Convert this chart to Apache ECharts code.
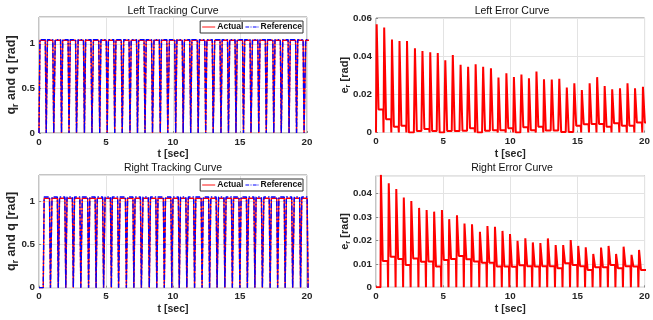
<!DOCTYPE html>
<html><head><meta charset="utf-8">
<script src="https://cdn.jsdelivr.net/npm/echarts@6/dist/echarts.min.js"></script>
<style>html,body{margin:0;padding:0;background:#fff}#c{width:653px;height:320px}</style>
</head><body><div id="c"></div>
<script>
// ---- data ----
// spike (rising-edge) times of each pulse, seconds
const leftPulseT = [0.05,0.61,1.19,1.75,2.31,2.90,3.46,4.04,4.60,5.16,5.72,6.30,6.86,7.42,7.98,8.56,9.12,9.71,10.27,10.83,11.39,11.95,12.51,13.09,13.65,14.21,14.77,15.33,15.91,16.47,17.03,17.59,18.17,18.73,19.29,19.88];
const rightPulseT = [0.365,0.95,1.51,2.07,2.63,3.21,3.77,4.33,4.91,5.45,6.03,6.59,7.15,7.74,8.30,8.86,9.42,9.98,10.54,11.12,11.68,12.24,12.80,13.38,13.94,14.50,15.06,15.62,16.18,16.76,17.32,17.88,18.44,19.03,19.59];
// tracking levels (rad)
const leftRefLevel = 1.047, leftActLevel = 1.040;
const rightRefLevel = 1.047, rightActLevel = 1.032;
// error peaks and hold values per pulse (rad)
const leftErrPeak = [0.0567,0.0550,0.0487,0.0480,0.0480,0.0441,0.0427,0.0420,0.0416,0.0378,0.0406,0.0355,0.0345,0.0358,0.0345,0.0337,0.0288,0.0310,0.0291,0.0304,0.0284,0.0320,0.0279,0.0277,0.0282,0.0236,0.0258,0.0222,0.0258,0.0290,0.0244,0.0226,0.0232,0.0258,0.0232,0.0240];
const leftErrHold = [0.0120,0.0070,0.0030,0.0036,0.0000,0.0008,0.0018,0.0008,0.0000,0.0008,0.0008,0.0009,0.0022,0.0000,0.0009,0.0012,0.0012,0.0022,0.0000,0.0028,0.0012,0.0030,0.0010,0.0010,0.0003,0.0003,0.0035,0.0043,0.0045,0.0045,0.0030,0.0048,0.0035,0.0035,0.0052,0.0052];
const rightErrPeak = [0.0480,0.0443,0.0418,0.0382,0.0367,0.0338,0.0329,0.0322,0.0329,0.0290,0.0307,0.0271,0.0268,0.0236,0.0261,0.0258,0.0240,0.0227,0.0198,0.0209,0.0191,0.0188,0.0208,0.0180,0.0180,0.0201,0.0176,0.0170,0.0142,0.0169,0.0176,0.0142,0.0173,0.0138,0.0159];
const rightErrHold = [0.0112,0.0130,0.0120,0.0095,0.0123,0.0109,0.0110,0.0088,0.0116,0.0120,0.0133,0.0119,0.0110,0.0105,0.0105,0.0089,0.0088,0.0087,0.0094,0.0090,0.0088,0.0090,0.0090,0.0081,0.0102,0.0095,0.0090,0.0074,0.0085,0.0085,0.0095,0.0081,0.0090,0.0088,0.0074];

// ---- build tables ----
function track(pulses, level){
  const p=[[0,0]];
  pulses.forEach(s=>{p.push([s-0.05,0],[s+0.02,level],[s+0.42,level],[s+0.49,0]);});
  return p;
}
function err(pulses, peak, hold){
  const p=[[0,0]];
  pulses.forEach((s,i)=>{
    const nx = i+1<pulses.length ? pulses[i+1] : 20.6;
    p.push([s-0.03,0],[s,peak[i]],[s+0.14,hold[i]],[nx-0.08,hold[i]],[nx-0.05,0]);
  });
  return p;
}

const FONT='"Liberation Sans", Arial, Helvetica, sans-serif';
const grids=[
  {left:39,top:17,width:268,height:116},
  {left:376,top:18,width:273,height:114.5},
  {left:39,top:175,width:268,height:112.7},
  {left:376,top:175.7,width:273,height:111.6}
];
grids.forEach(g=>{g.show=true;g.borderColor='#8a8a8a';g.borderWidth=1;g.backgroundColor='#fff';});

const lab={fontFamily:FONT,fontWeight:'bold',fontSize:9.8,color:'#262626'};
function xAxis(i){return {type:'value',gridIndex:i,min:0,max:20,interval:5,
  name:'t [sec]',nameLocation:'middle',nameGap:16,nameMoveOverlap:false,
  nameTextStyle:{fontFamily:FONT,fontWeight:'bold',fontSize:10.5,color:'#262626'},
  axisLine:{show:false},axisTick:{show:true,inside:true,length:2,lineStyle:{color:'#8a8a8a'}},
  axisLabel:Object.assign({margin:4},lab),
  splitLine:{show:true,lineStyle:{color:'#e3e3e3',width:1}}};}
function richName(fs){return {
  b:{fontFamily:FONT,fontWeight:'bold',fontSize:fs,color:'#262626'},
  s:{fontFamily:FONT,fontWeight:'bold',fontSize:fs*0.7,color:'#262626',padding:[fs*0.6,0,0,0]}
};}
function yAxis(i,max,interval,name,gap,fs){return {type:'value',gridIndex:i,min:0,max:max,interval:interval,
  name:name,nameLocation:'middle',nameGap:gap,nameMoveOverlap:false,
  nameTextStyle:{rich:richName(fs)},
  axisLine:{show:false},axisTick:{show:true,inside:true,length:2,lineStyle:{color:'#8a8a8a'}},
  axisLabel:Object.assign({margin:4,showMaxLabel:Math.abs(max/interval-Math.round(max/interval))<1e-6},lab),
  splitLine:{show:true,lineStyle:{color:'#e3e3e3',width:1}}};}

const titles=[
  ['Left Tracking Curve',173,5.5],['Left Error Curve',512,5.5],
  ['Right Tracking Curve',173,162.5],['Right Error Curve',512,162.5]
].map(t=>({text:t[0],left:t[1],top:t[2],textAlign:'center',padding:0,
  textStyle:{fontFamily:FONT,fontWeight:'normal',fontSize:10.5,color:'#111'}}));

function legend(top){return {right:350,top:top,orient:'horizontal',itemWidth:13,itemHeight:6,itemGap:2,
  padding:[1.5,1,1.5,2],borderColor:'#333',borderWidth:1,backgroundColor:'#fff',
  textStyle:{fontFamily:FONT,fontWeight:'bold',fontSize:8.6,color:'#111',padding:[0,0,0,-3]},
  data:[{name:'Actual',icon:'path://M0,4L14,4L14,5L0,5Z'},{name:'Reference',icon:'path://M0,4L4,4L4,5L0,5ZM5.5,4L6.5,4L6.5,5L5.5,5ZM8,4L12,4L12,5L8,5ZM13,4L14,4L14,5L13,5Z'}],
  selectedMode:false};}

const actStyle={color:'#ff0000',width:1.4};
const refStyle={color:'#0000ff',width:1.4,type:[5,2,1.5,2]};
const option={
  animation:false,
  title:titles,
  grid:grids,
  legend:[legend(21),legend(179)],
  xAxis:[xAxis(0),xAxis(1),xAxis(2),xAxis(3)],
  yAxis:[
    yAxis(0,1.3,0.5,'{b|q}{s|r}{b| and q [rad]}',19,12.5),
    yAxis(1,0.06,0.02,'{b|e}{s|r}{b| [rad]}',24,11),
    yAxis(2,1.3,0.5,'{b|q}{s|r}{b| and q [rad]}',19,12.5),
    yAxis(3,0.0475,0.01,'{b|e}{s|r}{b| [rad]}',24,11)
  ],
  series:[
    {name:'Actual',type:'line',xAxisIndex:0,yAxisIndex:0,showSymbol:false,symbol:'none',lineStyle:actStyle,itemStyle:{color:'#ff0000'},data:track(leftPulseT,leftActLevel)},
    {name:'Reference',type:'line',xAxisIndex:0,yAxisIndex:0,showSymbol:false,symbol:'none',lineStyle:refStyle,itemStyle:{color:'#0000ff'},data:track(leftPulseT,leftRefLevel)},
    {name:'err',type:'line',xAxisIndex:1,yAxisIndex:1,showSymbol:false,symbol:'none',lineStyle:{color:'#ff0000',width:2},data:err(leftPulseT,leftErrPeak,leftErrHold)},
    {name:'Actual',type:'line',xAxisIndex:2,yAxisIndex:2,showSymbol:false,symbol:'none',lineStyle:actStyle,itemStyle:{color:'#ff0000'},data:track(rightPulseT,rightActLevel)},
    {name:'Reference',type:'line',xAxisIndex:2,yAxisIndex:2,showSymbol:false,symbol:'none',lineStyle:refStyle,itemStyle:{color:'#0000ff'},data:track(rightPulseT,rightRefLevel)},
    {name:'err2',type:'line',xAxisIndex:3,yAxisIndex:3,showSymbol:false,symbol:'none',lineStyle:{color:'#ff0000',width:2},data:err(rightPulseT,rightErrPeak,rightErrHold)}
  ]
};
const chart=echarts.init(document.getElementById('c'),null,{renderer:'canvas'});
chart.setOption(option);
</script></body></html>
